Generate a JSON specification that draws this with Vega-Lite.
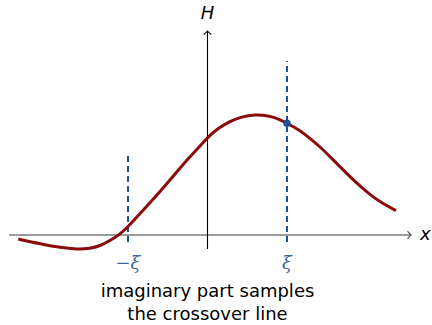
{
  "$schema": "https://vega.github.io/schema/vega-lite/v6.json",
  "width": 432,
  "height": 325,
  "autosize": {"type": "fit", "contains": "padding"},
  "padding": 0,
  "background": "white",
  "config": {"view": {"stroke": null}},
  "datasets": {
    "curve": [
      {"x": -2.38, "y": -0.05},
      {"x": -2.233, "y": -0.086},
      {"x": -2.069, "y": -0.117},
      {"x": -1.855, "y": -0.157},
      {"x": -1.642, "y": -0.18},
      {"x": -1.478, "y": -0.171},
      {"x": -1.352, "y": -0.138},
      {"x": -1.226, "y": -0.069},
      {"x": -1.113, "y": 0.0},
      {"x": -1.0, "y": 0.101},
      {"x": -0.849, "y": 0.27},
      {"x": -0.723, "y": 0.406},
      {"x": -0.597, "y": 0.545},
      {"x": -0.472, "y": 0.692},
      {"x": -0.346, "y": 0.839},
      {"x": -0.22, "y": 0.985},
      {"x": -0.094, "y": 1.119},
      {"x": 0.0, "y": 1.226},
      {"x": 0.116, "y": 1.33},
      {"x": 0.283, "y": 1.43},
      {"x": 0.409, "y": 1.482},
      {"x": 0.597, "y": 1.519},
      {"x": 0.786, "y": 1.497},
      {"x": 0.912, "y": 1.453},
      {"x": 1.0, "y": 1.405},
      {"x": 1.157, "y": 1.321},
      {"x": 1.289, "y": 1.216},
      {"x": 1.415, "y": 1.11},
      {"x": 1.541, "y": 0.985},
      {"x": 1.667, "y": 0.859},
      {"x": 1.792, "y": 0.733},
      {"x": 1.918, "y": 0.616},
      {"x": 2.044, "y": 0.509},
      {"x": 2.17, "y": 0.419},
      {"x": 2.296, "y": 0.346},
      {"x": 2.371, "y": 0.306}
    ],
    "samples": [
      {"x": -1, "y1": -0.088, "y2": 1.019, "label": "−ξ"},
      {"x": 1, "y1": -0.088, "y2": 2.189, "label": "ξ"}
    ]
  },
  "encoding": {
    "x": {"type": "quantitative", "scale": {"domain": [-2.61, 2.824], "nice": false, "zero": false}, "axis": null},
    "y": {"type": "quantitative", "scale": {"domain": [-1.132, 2.956], "nice": false, "zero": false}, "axis": null}
  },
  "layer": [
    {
      "data": {"values": [{"x": -2.497, "x2": 2.555, "y": 0}]},
      "mark": {"type": "rule", "color": "#7a7a7a", "strokeWidth": 1.6},
      "encoding": {"x": {"field": "x"}, "x2": {"field": "x2"}, "y": {"field": "y"}}
    },
    {
      "data": {"values": [{"x": 0, "y": -0.176, "y2": 2.56}]},
      "mark": {"type": "rule", "color": "black", "strokeWidth": 1.1},
      "encoding": {"x": {"field": "x"}, "y": {"field": "y"}, "y2": {"field": "y2"}}
    },
    {
      "data": {"values": [
        {"x": 2.56, "y": 0, "angle": 0, "axis": "x"},
        {"x": 0, "y": 2.566, "angle": 270, "axis": "H"}
      ]},
      "mark": {
        "type": "point",
        "shape": "M -1.1 -1.2 Q -0.4 -0.3 0 0 Q -0.4 0.3 -1.1 1.2",
        "filled": false,
        "size": 40,
        "strokeWidth": 1.2,
        "opacity": 1
      },
      "encoding": {
        "x": {"field": "x"},
        "y": {"field": "y"},
        "angle": {"field": "angle", "type": "quantitative", "scale": null},
        "color": {"field": "axis", "type": "nominal", "scale": {"domain": ["x", "H"], "range": ["#555555", "black"]}, "legend": null}
      }
    },
    {
      "data": {"name": "samples"},
      "mark": {"type": "rule", "color": "#1f4f94", "strokeWidth": 2, "strokeDash": [6, 4]},
      "encoding": {"x": {"field": "x"}, "y": {"field": "y1"}, "y2": {"field": "y2"}}
    },
    {
      "data": {"name": "curve"},
      "mark": {"type": "line", "color": "#8b0a0a", "strokeWidth": 3, "interpolate": "basis"},
      "encoding": {"x": {"field": "x"}, "y": {"field": "y"}}
    },
    {
      "data": {"values": [{"x": 1, "y": 1.405}]},
      "mark": {"type": "point", "filled": true, "shape": "circle", "size": 55, "color": "#1f4f94", "opacity": 1},
      "encoding": {"x": {"field": "x"}, "y": {"field": "y"}}
    },
    {
      "data": {"name": "samples"},
      "mark": {"type": "text", "color": "#3f66a3", "fontSize": 18, "font": "DejaVu Serif", "fontStyle": "italic", "baseline": "middle", "align": "center"},
      "encoding": {"x": {"field": "x"}, "y": {"datum": -0.36}, "text": {"field": "label"}}
    },
    {
      "data": {"values": [
        {"x": 0, "y": 2.78, "t": "H"},
        {"x": 2.74, "y": 0.0, "t": "x"}
      ]},
      "mark": {"type": "text", "color": "black", "fontSize": 18, "font": "DejaVu Sans", "fontStyle": "oblique", "baseline": "middle", "align": "center"},
      "encoding": {"x": {"field": "x"}, "y": {"field": "y"}, "text": {"field": "t"}}
    },
    {
      "data": {"values": [
        {"x": 0, "y": -0.72, "t": "imaginary part samples"},
        {"x": 0, "y": -1.01, "t": "the crossover line"}
      ]},
      "mark": {"type": "text", "color": "black", "fontSize": 18, "font": "DejaVu Sans", "baseline": "middle", "align": "center"},
      "encoding": {"x": {"field": "x"}, "y": {"field": "y"}, "text": {"field": "t"}}
    }
  ]
}
